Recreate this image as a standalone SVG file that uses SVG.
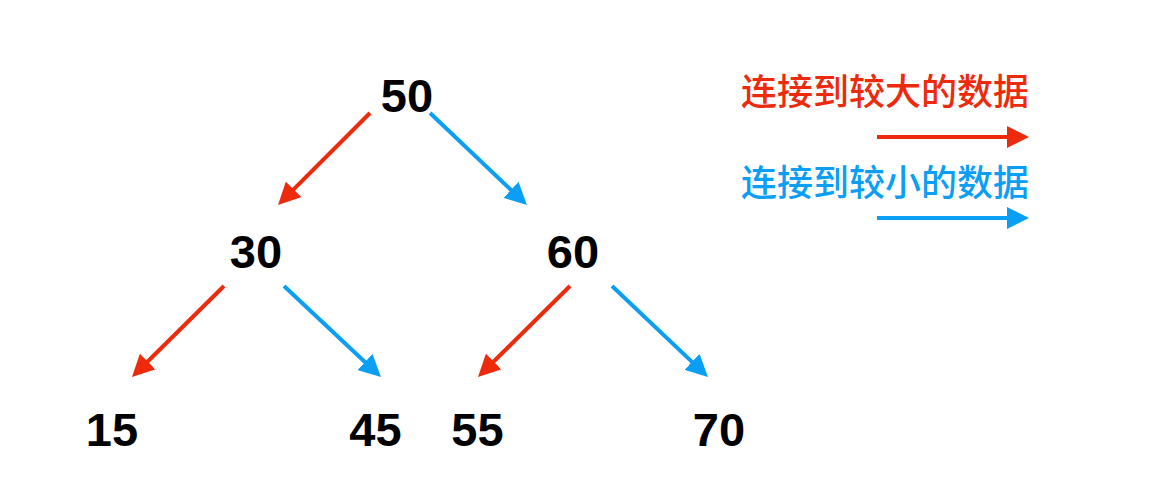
<svg xmlns="http://www.w3.org/2000/svg" width="1176" height="492" viewBox="0 0 1176 492">
<style>
.num{font-family:"Liberation Sans",Arial,sans-serif;font-weight:bold;font-size:47px;fill:#000;text-anchor:middle}
.leg{font-family:"Noto Sans CJK SC","Noto Sans",sans-serif;font-size:36px;font-weight:500;text-anchor:end}
.r{stroke:#EE2A0C;stroke-width:4;fill:none}
.b{stroke:#0A9FF5;stroke-width:4;fill:none}
</style>
<defs>
<marker id="ar" markerUnits="userSpaceOnUse" viewBox="0 0 22 22" markerWidth="22" markerHeight="22" refX="12" refY="11" orient="auto"><path d="M0,0 L22,11 L0,22 z" fill="#EE2A0C"/></marker>
<marker id="ab" markerUnits="userSpaceOnUse" viewBox="0 0 22 22" markerWidth="22" markerHeight="22" refX="12" refY="11" orient="auto"><path d="M0,0 L22,11 L0,22 z" fill="#0A9FF5"/></marker>
</defs>
<rect width="1176" height="492" fill="#fff"/>
<g id="connectors">
<line class="r" x1="370" y1="113" x2="285.1" y2="197.9" marker-end="url(#ar)"/>
<line class="b" x1="430" y1="113" x2="519.7" y2="198.1" marker-end="url(#ab)"/>
<line class="r" x1="224" y1="286" x2="139.1" y2="370" marker-end="url(#ar)"/>
<line class="b" x1="284" y1="286" x2="373.7" y2="370.2" marker-end="url(#ab)"/>
<line class="r" x1="570" y1="286" x2="485.1" y2="370" marker-end="url(#ar)"/>
<line class="b" x1="612" y1="286" x2="700.7" y2="370.1" marker-end="url(#ab)"/>
</g>
<g id="n50"><text class="num" x="407" y="112">50</text></g>
<g id="n30"><text class="num" x="256" y="268">30</text></g>
<g id="n60"><text class="num" x="573" y="268">60</text></g>
<g id="n15"><text class="num" x="112" y="446">15</text></g>
<g id="n45"><text class="num" x="375.5" y="446">45</text></g>
<g id="n55"><text class="num" x="477.5" y="446">55</text></g>
<g id="n70"><text class="num" x="719" y="446">70</text></g>
<g id="legend">
<text class="leg" x="1029" y="105" fill="#EE2A0C">连接到较大的数据</text>
<line class="r" x1="877" y1="137" x2="1019" y2="137" marker-end="url(#ar)"/>
<text class="leg" x="1029" y="196" fill="#0A9FF5">连接到较小的数据</text>
<line class="b" x1="877" y1="218" x2="1019" y2="218" marker-end="url(#ab)"/>
</g>
</svg>
